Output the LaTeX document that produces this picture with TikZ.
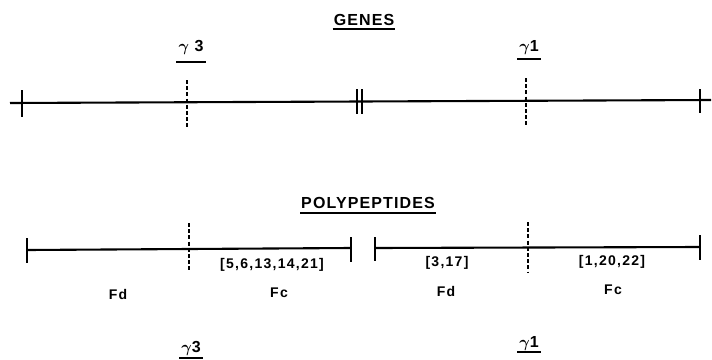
\RequirePackage{fix-cm}
\documentclass[tikz,border=0pt]{standalone}
\usepackage{bm}
\usepackage{fontspec}
\setmainfont{Liberation Sans}
\newfontfamily\hdfont{Liberation Sans}[LetterSpace=7]
\newfontfamily\labfont{Liberation Sans}[LetterSpace=9]
\newcommand{\gm}{\(\bm{\gamma}\)}
\begin{document}
\begin{tikzpicture}[x=1pt,y=-1pt,
  bar/.style={line width=2.1pt},
  tickln/.style={line width=2.1pt},
  dashln/.style={line width=2.1pt,dash pattern=on 4pt off 2.2pt},
  ulne/.style={line width=1.8pt},
  head/.style={font=\hdfont\bfseries\fontsize{16}{18}\selectfont,inner xsep=1pt,inner ysep=0pt,anchor=base},
  lab/.style={font=\labfont\bfseries\fontsize{14}{16}\selectfont,inner sep=0pt,anchor=center},
  gam/.style={font=\hdfont\bfseries\fontsize{16}{18}\selectfont,inner xsep=2pt,inner ysep=0pt,anchor=base}]
\useasboundingbox (0,0) rectangle (712,359);
% ---- headings
\node[head] (genes) at (364,25) {GENES};
\draw[ulne] ([yshift=-4pt]genes.base west) -- ([yshift=-4pt]genes.base east);
\node[head] (poly) at (368,208) {POLYPEPTIDES};
\draw[ulne] ([yshift=-5pt]poly.base west) -- ([yshift=-5pt]poly.base east);
% ---- gene labels
\node[gam] (g3t) at (191,51) {\gm\ 3};
\draw[ulne] ([yshift=-11pt]g3t.base west) -- ([yshift=-11pt]g3t.base east);
\node[gam] (g1t) at (529,51) {\gm 1};
\draw[ulne] ([yshift=-8pt]g1t.base west) -- ([yshift=-8pt]g1t.base east);
% ---- gene line
\coordinate (gl) at (10,103);
\coordinate (gr) at (711,100);
\draw[bar] (gl) -- (gr);
\coordinate (t1a) at (22,90);  \coordinate (t1b) at (22,117);
\coordinate (t2a) at (357,89); \coordinate (t2b) at (357,114);
\coordinate (t3a) at (362,89); \coordinate (t3b) at (362,114);
\coordinate (t4a) at (700,89); \coordinate (t4b) at (700,113);
\draw[tickln] (t1a) -- (t1b);
\draw[tickln] (t2a) -- (t2b);
\draw[tickln] (t3a) -- (t3b);
\draw[tickln] (t4a) -- (t4b);
\coordinate (d1a) at (187,80); \coordinate (d1b) at (187,127);
\coordinate (d2a) at (526,78); \coordinate (d2b) at (526,125);
\draw[dashln] (d1a) -- (d1b);
\draw[dashln] (d2a) -- (d2b);
% ---- polypeptide bars
\coordinate (pl1) at (27,250);  \coordinate (pr1) at (351,248);
\draw[bar] (pl1) -- (pr1);
\draw[tickln] (27,238) -- (27,263);
\draw[tickln] (351,237) -- (351,262);
\coordinate (pl2) at (375,248); \coordinate (pr2) at (700,247);
\draw[bar] (pl2) -- (pr2);
\draw[tickln] (375,237) -- (375,261);
\draw[tickln] (700,235) -- (700,260);
\coordinate (d3a) at (189,223); \coordinate (d3b) at (189,270);
\coordinate (d4a) at (528,222); \coordinate (d4b) at (528,273);
\draw[dashln] (d3a) -- (d3b);
\draw[dashln] (d4a) -- (d4b);
% ---- polypeptide labels
\node[lab] (n1) at (272,265) {[5,6,13,14,21]};
\node[lab] (n2) at (447,263) {[3,17]};
\node[lab] (n3) at (612,262) {[1,20,22]};
\node[lab] (fd1) at (118,294) {Fd};
\node[lab] (fc1) at (279,293) {Fc};
\node[lab] (fd2) at (446,291) {Fd};
\node[lab] (fc2) at (613,290) {Fc};
% ---- bottom gamma labels
\node[gam] (g3b) at (191,352) {\gm 3};
\draw[ulne] ([yshift=-6pt]g3b.base west) -- ([yshift=-6pt]g3b.base east);
\node[gam] (g1b) at (529,347) {\gm 1};
\draw[ulne] ([yshift=-5pt]g1b.base west) -- ([yshift=-5pt]g1b.base east);
\end{tikzpicture}
\end{document}
